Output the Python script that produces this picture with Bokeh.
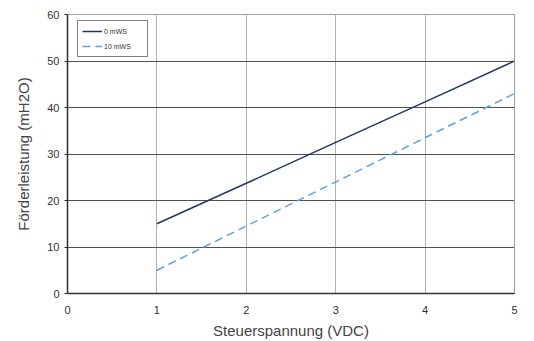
from bokeh.plotting import figure
from bokeh.models import Legend, LegendItem, FixedTicker, Range1d
from bokeh.embed import file_html
from bokeh.resources import INLINE

x_volt = [1, 2, 3, 4, 5]
y_0mws = [15, 23.7, 32.5, 41.2, 50]
y_10mws = [5, 14.5, 24, 33.5, 43]
series_names = ["0 mWS", "10 mWS"]
x_ticks = [0, 1, 2, 3, 4, 5]
y_ticks = [0, 10, 20, 30, 40, 50, 60]

p = figure(width=534, height=341, output_backend="svg", toolbar_location=None,
           x_range=Range1d(0, 5), y_range=Range1d(0, 60),
           min_border_left=67, min_border_right=20, min_border_top=14, min_border_bottom=46)
p.background_fill_color = "white"
p.border_fill_color = "white"
p.outline_line_color = "#a0a0a0"
p.outline_line_width = 1

p.xaxis.ticker = FixedTicker(ticks=x_ticks)
p.yaxis.ticker = FixedTicker(ticks=y_ticks)
p.xgrid.ticker = FixedTicker(ticks=x_ticks)
p.ygrid.ticker = FixedTicker(ticks=y_ticks)
p.xgrid.grid_line_color = "#b0b0b0"
p.ygrid.grid_line_color = "#505050"
p.xgrid.grid_line_width = 1
p.ygrid.grid_line_width = 1

for ax in (p.xaxis[0], p.yaxis[0]):
    ax.axis_line_color = "#303030"
    ax.axis_line_width = 1.5
    ax.minor_tick_line_color = None
    ax.major_label_text_font = "Liberation Sans"
    ax.major_label_text_font_size = "11px"
    ax.major_label_text_color = "#333333"
    ax.axis_label_text_font = "Liberation Sans"
    ax.axis_label_text_font_size = "15px"
    ax.axis_label_text_font_style = "normal"
    ax.axis_label_text_color = "#444444"

p.xaxis.major_tick_line_color = None
p.xaxis.major_label_standoff = 6
p.yaxis.major_tick_out = 3
p.yaxis.major_tick_in = 0
p.yaxis.major_tick_line_color = "#303030"
p.yaxis.major_label_standoff = 5
p.xaxis.axis_label = "Steuerspannung (VDC)"
p.yaxis.axis_label = "Förderleistung (mH2O)"
p.xaxis.axis_label_standoff = 5
p.yaxis.axis_label_standoff = 12

r1 = p.line(x_volt, y_0mws, line_color="#1f3864", line_width=1.5)
r2 = p.line(x_volt, y_10mws, line_color="#5ba3e0", line_width=1.5, line_dash="8 5")

legend = Legend(items=[LegendItem(label=series_names[0], renderers=[r1]),
                       LegendItem(label=series_names[1], renderers=[r2])],
                location=(10, 236))
legend.border_line_color = "black"
legend.border_line_width = 1
legend.background_fill_alpha = 1
legend.label_text_font = "Liberation Sans"
legend.label_text_font_size = "7px"
legend.label_text_color = "#333333"
legend.glyph_width = 20
legend.glyph_height = 12
legend.label_height = 12
legend.label_standoff = 2
legend.spacing = 3
legend.padding = 4
legend.margin = 0
legend.label_width = 39
p.add_layout(legend, "center")

open("out.html", "w").write(file_html(p, INLINE))
